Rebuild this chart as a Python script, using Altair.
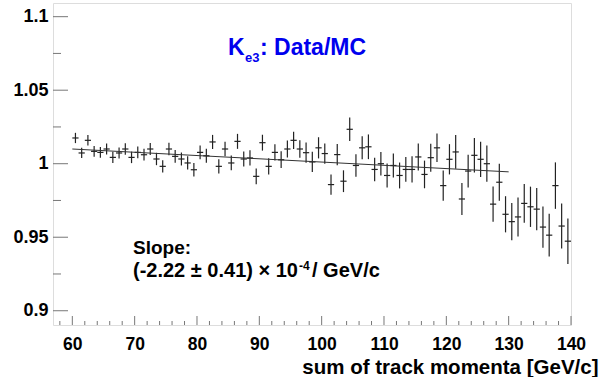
import altair as alt
import pandas as pd

# ---- data ----
centers = [60.5, 61.5, 62.5, 63.5, 64.5, 65.5, 66.5, 67.5, 68.5, 69.5,
           70.5, 71.5, 72.5, 73.5, 74.5, 75.5, 76.5, 77.5, 78.5, 79.5,
           80.5, 81.5, 82.5, 83.5, 84.5, 85.5, 86.5, 87.5, 88.5, 89.5,
           90.5, 91.5, 92.5, 93.5, 94.5, 95.5, 96.5, 97.5, 98.5, 99.5,
           100.5, 101.5, 102.5, 103.5, 104.5, 105.5, 106.5, 107.5, 108.5, 109.5,
           110.5, 111.5, 112.5, 113.5, 114.5, 115.5, 116.5, 117.5, 118.5, 119.5,
           120.5, 121.5, 122.5, 123.5, 124.5, 125.5, 126.5, 127.5, 128.5, 129.5,
           130.5, 131.5, 132.5, 133.5, 134.5, 135.5, 136.5, 137.5, 138.5, 139.5]
ratio = [1.0175, 1.0073, 1.0159, 1.0084, 1.0077, 1.0100, 1.0043, 1.0073, 1.0100, 1.0043,
         1.0077, 1.0061, 1.0100, 1.0032, 0.9982, 1.0100, 1.0050, 1.0032, 1.0005, 0.9959,
         1.0077, 1.0054, 1.0148, 0.9982, 1.0100, 1.0005, 1.0152, 1.0032, 1.0039, 0.9914,
         1.0143, 0.9982, 1.0077, 1.0027, 1.0100, 1.0159, 1.0100, 1.0075, 1.0012, 1.0108,
         1.0069, 0.9858, 1.0062, 0.9881, 1.0234, 0.9988, 1.0108, 1.0115, 0.9961, 1.0000,
         0.9920, 0.9988, 0.9920, 0.9961, 0.9961, 1.0046, 0.9927, 1.0041, 1.0108, 0.9851,
         1.0030, 1.0080, 0.9760, 0.9950, 1.0057, 1.0030, 1.0000, 0.9725, 0.9874, 0.9656,
         0.9606, 0.9638, 0.9730, 0.9707, 0.9691, 0.9569, 0.9514, 0.9851, 0.9576, 0.9473]
errors = [0.0035, 0.0035, 0.0036, 0.0036, 0.0037, 0.0037, 0.0038, 0.0038, 0.0039, 0.0039,
          0.0040, 0.0040, 0.0041, 0.0042, 0.0042, 0.0043, 0.0044, 0.0044, 0.0045, 0.0046,
          0.0046, 0.0047, 0.0048, 0.0048, 0.0049, 0.0050, 0.0051, 0.0051, 0.0052, 0.0053,
          0.0054, 0.0055, 0.0056, 0.0057, 0.0058, 0.0059, 0.0060, 0.0069, 0.0069, 0.0072,
          0.0069, 0.0069, 0.0072, 0.0074, 0.0080, 0.0077, 0.0078, 0.0084, 0.0080, 0.0080,
          0.0082, 0.0082, 0.0088, 0.0084, 0.0089, 0.0092, 0.0094, 0.0095, 0.0097, 0.0103,
          0.0103, 0.0115, 0.0109, 0.0111, 0.0117, 0.0120, 0.0123, 0.0120, 0.0126, 0.0123,
          0.0126, 0.0133, 0.0132, 0.0137, 0.0144, 0.0140, 0.0145, 0.0158, 0.0153, 0.0155]
bin_half = 0.5

fit_x = [60.0, 130.0]
fit_y = [1.0100, 0.99446]

x_major = [60, 70, 80, 90, 100, 110, 120, 130, 140]
x_minor = [58, 62, 64, 66, 68, 72, 74, 76, 78, 82, 84, 86, 88, 92, 94, 96, 98,
           102, 104, 106, 108, 112, 114, 116, 118, 122, 124, 126, 128, 132, 134, 136, 138]
y_major = [0.9, 0.95, 1.0, 1.05, 1.1]
y_minor = [0.925, 0.975, 1.025, 1.075]

x_domain = [56.9, 140]
y_domain = [0.8903, 1.1093]

W, H = 518, 322
FONT = "Liberation Sans"

df = pd.DataFrame({"p": centers, "r": ratio, "e": errors})
df["lo"] = df["r"] - df["e"]
df["hi"] = df["r"] + df["e"]
df["xl"] = df["p"] - bin_half
df["xh"] = df["p"] + bin_half

xs = alt.Scale(domain=x_domain, nice=False, zero=False)
ys = alt.Scale(domain=y_domain, nice=False, zero=False)

x_axis = alt.Axis(values=x_major, ticks=False, tickSize=0, domain=False, grid=False,
                  labelFont=FONT, labelFontWeight="bold", labelFontSize=17.5, labelColor="#000",
                  labelPadding=10, labelFlush=False, labelOverlap=False,
                  title="sum of track momenta [GeV/c]", titleFont=FONT, titleFontWeight="bold",
                  titleFontSize=20.5, titleColor="#000", titleAnchor="end", titleAlign="right",
                  titleBaseline="alphabetic", titleX=545, titleY=48)
y_axis = alt.Axis(values=y_major, ticks=False, tickSize=0, domain=False, grid=False,
                  labelFont=FONT, labelFontWeight="bold", labelFontSize=18, labelColor="#000",
                  labelPadding=5, labelFlush=False, labelOverlap=False, title="",
                  format="~g")

X = lambda f: alt.X(f, scale=xs, axis=x_axis)
Y = lambda f: alt.Y(f, scale=ys, axis=y_axis)

base = alt.Chart(df)
vbars = base.mark_rule(color="#222", strokeWidth=1.2).encode(
    x=X("p:Q"), y=Y("lo:Q"), y2="hi:Q")
hbars = base.mark_rule(color="#222", strokeWidth=1.2).encode(
    x=X("xl:Q"), x2="xh:Q", y=Y("r:Q"))

fit = alt.Chart(pd.DataFrame({"fx": fit_x, "fy": fit_y})).mark_line(
    color="#333", strokeWidth=1).encode(x=X("fx:Q"), y=Y("fy:Q"))

tick_color = "#777"
ymaj = alt.Chart(pd.DataFrame({"v": y_major})).mark_rule(color=tick_color, strokeWidth=1).encode(
    y=Y("v:Q"), x=alt.value(0), x2=alt.value(15))
ymin = alt.Chart(pd.DataFrame({"v": y_minor})).mark_rule(color=tick_color, strokeWidth=1).encode(
    y=Y("v:Q"), x=alt.value(0), x2=alt.value(8))
xmaj = alt.Chart(pd.DataFrame({"v": x_major})).mark_rule(color=tick_color, strokeWidth=1).encode(
    x=X("v:Q"), y=alt.value(H), y2=alt.value(H - 9))
xmin = alt.Chart(pd.DataFrame({"v": x_minor})).mark_rule(color=tick_color, strokeWidth=1).encode(
    x=X("v:Q"), y=alt.value(H), y2=alt.value(H - 4))

blue = "#0000ee"
def txt(s, x, y, size, color="#000"):
    return alt.Chart(pd.DataFrame({"t": [s]})).mark_text(
        font=FONT, fontWeight="bold", fontSize=size, color=color,
        align="left", baseline="alphabetic").encode(
        text="t:N", x=alt.value(x), y=alt.value(y))

texts = [
    txt("K", 175, 52, 23, blue),
    txt("e3", 192, 59, 13, blue),
    txt(": Data/MC", 207, 52, 23, blue),
    txt("Slope:", 80, 251, 19),
    txt("(-2.22 \u00b1 0.41) \u00d7 10", 80, 274, 20),
    txt("-4", 246, 267, 12),
    txt("/ GeV/c", 259, 274, 20),
]

chart = alt.layer(vbars, hbars, fit, ymaj, ymin, xmaj, xmin, *texts).properties(
    width=W, height=H,
    autosize=alt.AutoSizeParams(type="none"),
    padding={"left": 53, "top": 3, "right": 35, "bottom": 52},
).configure_view(stroke="#444", strokeWidth=1).configure(background="white")

chart.save("out.html", embed_options={"renderer": "svg", "actions": False})
